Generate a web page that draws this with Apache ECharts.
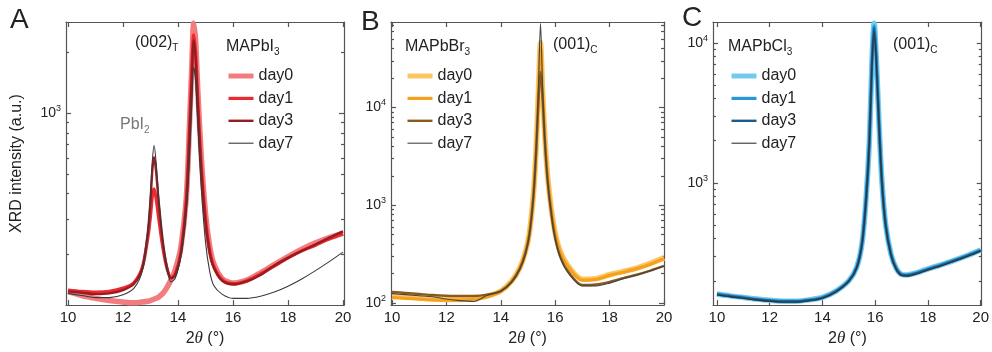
<!DOCTYPE html>
<html>
<head>
<meta charset="utf-8">
<script src="https://cdn.jsdelivr.net/npm/echarts@6/dist/echarts.min.js"></script>
<style>
html, body { margin: 0; padding: 0; background: #fff; }
#main { width: 992px; height: 352px; }
</style>
</head>
<body>
<div id="main"></div>
<script>
// values (2theta in degrees, intensity in a.u.)
let xA = [10, 10.5, 11, 11.5, 12, 12.4, 12.7, 12.9, 13.0, 13.07, 13.13, 13.2, 13.3, 13.45, 13.6, 13.75, 13.9, 14.1, 14.3, 14.42, 14.5, 14.57, 14.64, 14.72, 14.85, 15.0, 15.15, 15.3, 15.6, 16, 16.5, 17, 17.5, 18, 18.5, 19, 19.5, 20];
let aDay0 = [131, 125, 121, 118, 116, 115, 116, 117, 118, 119, 120, 121, 123, 128, 137, 150, 168, 215, 380, 900, 1700, 2800, 2300, 1300, 600, 320, 220, 180, 152, 144, 149, 162, 178, 195, 212, 228, 242, 255];
let aDay1 = [133, 131, 130, 131, 136, 145, 172, 240, 310, 390, 422, 380, 300, 215, 170, 153, 160, 205, 370, 850, 1600, 2450, 2000, 1150, 540, 300, 210, 175, 150, 143, 148, 160, 175, 192, 208, 222, 238, 252];
let aDay3 = [131, 129, 127, 128, 133, 143, 170, 255, 370, 530, 607, 520, 360, 230, 172, 152, 158, 200, 360, 800, 1500, 2300, 1900, 1100, 520, 290, 205, 172, 148, 142, 147, 158, 176, 192, 208, 224, 242, 260];
let aDay7 = [128, 125, 122, 122, 126, 136, 165, 260, 400, 590, 695, 580, 380, 230, 168, 146, 152, 195, 330, 620, 1100, 1700, 1450, 900, 420, 230, 165, 140, 127, 121, 121, 124, 130, 139, 151, 166, 184, 205];

let xB = [10, 10.5, 11, 11.5, 12, 12.5, 13, 13.5, 14, 14.4, 14.7, 14.9, 15.05, 15.2, 15.3, 15.38, 15.46, 15.54, 15.62, 15.72, 15.85, 16, 16.2, 16.5, 17, 17.5, 18, 18.5, 19, 19.5, 20];
let bDay0 = [118, 116, 113, 111, 109, 109, 111, 118, 133, 168, 230, 330, 520, 1300, 3800, 14000, 46000, 14000, 5000, 2000, 950, 520, 330, 235, 175, 178, 195, 210, 228, 255, 290];
let bDay1 = [114, 112, 110, 108, 107, 107, 109, 116, 132, 166, 228, 325, 510, 1280, 3700, 13000, 40000, 13000, 4800, 1950, 930, 510, 325, 230, 172, 175, 192, 207, 225, 250, 284];
let bDay3 = [130, 127, 124, 121, 119, 118, 118, 122, 133, 165, 225, 320, 500, 1250, 3600, 11000, 23000, 12000, 4500, 1800, 850, 460, 290, 205, 153, 155, 165, 180, 195, 215, 240];
let bDay7 = [125, 122, 119, 116, 110, 106, 104, 120, 132, 164, 222, 315, 500, 1250, 3800, 15000, 72000, 15000, 4600, 1800, 840, 450, 285, 200, 150, 150, 160, 178, 194, 214, 238];

let xC = [10, 10.5, 11, 11.5, 12, 12.5, 13, 13.5, 14, 14.5, 15, 15.3, 15.5, 15.65, 15.78, 15.88, 15.96, 16.04, 16.14, 16.26, 16.4, 16.6, 16.8, 17, 17.2, 17.5, 18, 18.5, 19, 19.5, 20];
let cDay0 = [161, 156, 152, 148, 145, 143, 143, 146, 152, 168, 200, 250, 370, 750, 2000, 7500, 13800, 8000, 2800, 1000, 500, 310, 245, 222, 220, 226, 243, 260, 280, 303, 332];
let cDay1 = [161, 156, 152, 148, 145, 143, 143, 146, 152, 168, 200, 250, 370, 750, 2000, 7400, 13200, 7900, 2800, 1000, 500, 310, 245, 222, 220, 226, 243, 260, 280, 303, 330];
let cDay3 = [160, 155, 151, 147, 144, 142, 142, 145, 151, 167, 199, 249, 368, 745, 1980, 7300, 12800, 7800, 2750, 990, 495, 307, 243, 220, 218, 224, 241, 258, 278, 301, 328];
let cDay7 = [159, 154, 150, 146, 143, 141, 141, 144, 150, 166, 198, 247, 365, 740, 1950, 7100, 12000, 7500, 2700, 980, 490, 305, 241, 218, 216, 222, 239, 256, 276, 299, 326];

let days = ['day0', 'day1', 'day3', 'day7'];
let xTicks = [10, 12, 14, 16, 18, 20];
let yMajorA = [1000];
let yMinorA = [200, 300, 400, 500, 600, 700, 800, 900, 2000];
let yMajorB = [100, 1000, 10000];
let yMinorB = [200, 300, 400, 500, 600, 700, 800, 900, 2000, 3000, 4000, 5000, 6000, 7000, 8000, 9000, 20000, 30000, 40000, 50000, 60000, 70000];
let yMajorC = [1000, 10000];
let yMinorC = [200, 300, 400, 500, 600, 700, 800, 900, 2000, 3000, 4000, 5000, 6000, 7000, 8000, 9000];

let FONT = 'Liberation Sans';
let AX = '#555';
let TXT = '#222';
let widths = [5.5, 3.2, 2.4, 1.1];

let panels = [
    { key: 'A', grid: { left: 66, top: 22, width: 278, height: 285 }, xMin: 9.927, xMax: 20.036, yMin: 112, yMax: 2840,
      major: yMajorA, minor: yMinorA, xs: xA, ys: [aDay0, aDay1, aDay3, aDay7],
      colors: ['#f27d80', '#ea2a30', '#9a1b1f', '#3a3a3a'], legendLeft: 226, title: 'MAPbI{s|3}', titleX: 226 },
    { key: 'B', grid: { left: 391, top: 22, width: 273, height: 285 }, xMin: 9.963, xMax: 20.0, yMin: 95.4, yMax: 74700,
      major: yMajorB, minor: yMinorB, xs: xB, ys: [bDay0, bDay1, bDay3, bDay7],
      colors: ['#fdc665', '#f6a11e', '#8a5a1c', '#444444'], legendLeft: 405, title: 'MAPbBr{s|3}', titleX: 405 },
    { key: 'C', grid: { left: 713, top: 22, width: 276, height: 285 }, xMin: 9.85, xMax: 20.04, yMin: 134, yMax: 14100,
      major: yMajorC, minor: yMinorC, xs: xC, ys: [cDay0, cDay1, cDay3, cDay7],
      colors: ['#72cbef', '#2a98d8', '#1b5b8c', '#333333'], legendLeft: 729, title: 'MAPbCl{s|3}', titleX: 728 }
];

function supLabel(v) {
    return '{b|10}{s|' + Math.round(Math.log10(v)) + '}';
}

let grids = [], xAxes = [], yAxes = [], series = [], legends = [];

panels.forEach(function (p, i) {
    grids.push(p.grid);
    let lineStyle = { color: AX, width: 1.2 };
    let xBase = { type: 'value', gridIndex: i, min: p.xMin, max: p.xMax, splitLine: { show: false },
        axisLine: { lineStyle: lineStyle },
        axisTick: { inside: true, length: 5, lineStyle: lineStyle, customValues: xTicks } };
    xAxes.push(Object.assign({}, xBase, {
        position: 'bottom',
        axisLabel: { customValues: xTicks, fontSize: 15, color: TXT, fontFamily: FONT, margin: 5 },
        name: '2{i|θ} (°)', nameLocation: 'middle', nameGap: 22,
        nameTextStyle: { fontSize: 16, color: TXT, fontFamily: FONT,
            rich: { i: { fontSize: 17, fontStyle: 'italic', fontFamily: 'Liberation Serif', color: TXT } } }
    }));
    xAxes.push(Object.assign({}, xBase, { position: 'top', axisLabel: { show: false } }));

    let yBase = { type: 'log', logBase: 10, gridIndex: i, min: p.yMin, max: p.yMax, splitLine: { show: false } };
    let yMain = Object.assign({}, yBase, {
        position: 'left',
        axisLine: { show: true, lineStyle: lineStyle },
        axisTick: { inside: true, length: 5, lineStyle: lineStyle, customValues: p.major },
        axisLabel: { customValues: p.major, formatter: supLabel, margin: 5,
            rich: { b: { fontSize: 14, color: TXT, fontFamily: FONT, lineHeight: 18 },
                    s: { fontSize: 9, color: TXT, fontFamily: FONT, lineHeight: 10, verticalAlign: 'top' } } }
    });
    if (i === 0) {
        yMain.name = 'XRD intensity (a.u.)';
        yMain.nameLocation = 'middle';
        yMain.nameGap = 41;
        yMain.nameTextStyle = { fontSize: 16, color: TXT, fontFamily: FONT };
    }
    yAxes.push(yMain);
    yAxes.push(Object.assign({}, yBase, { position: 'left', axisLine: { show: false }, axisLabel: { show: false },
        axisTick: { inside: true, length: 3, lineStyle: lineStyle, customValues: p.minor } }));
    yAxes.push(Object.assign({}, yBase, { position: 'right', axisLine: { show: true, lineStyle: lineStyle }, axisLabel: { show: false },
        axisTick: { inside: true, length: 5, lineStyle: lineStyle, customValues: p.major } }));
    yAxes.push(Object.assign({}, yBase, { position: 'right', axisLine: { show: false }, axisLabel: { show: false },
        axisTick: { inside: true, length: 3, lineStyle: lineStyle, customValues: p.minor } }));

    let legendData = [];
    days.forEach(function (d, k) {
        let name = p.key + ' ' + d;
        series.push({
            type: 'line', name: name, xAxisIndex: 2 * i, yAxisIndex: 4 * i,
            data: p.xs.map(function (x, j) { return [x, p.ys[k][j]]; }),
            showSymbol: false, symbol: 'none', smooth: 0.3,
            lineStyle: { color: p.colors[k], width: widths[k] },
            itemStyle: { color: p.colors[k] },
            z: 2 + k, silent: true, animation: false
        });
        legendData.push({ name: name, itemStyle: { opacity: 0 },
            lineStyle: { width: widths[k] - (k === 0 ? 0.5 : 0), opacity: 1 } });
    });
    legends.push({
        left: p.legendLeft, top: 68, orient: 'vertical', padding: 0,
        itemWidth: 25, itemHeight: 14, itemGap: 6.4, selectedMode: false,
        textStyle: { fontSize: 16, color: TXT, fontFamily: FONT },
        formatter: function (n) { return n.split(' ')[1]; },
        data: legendData
    });
});

function label(x, y, text, color, size) {
    return {
        type: 'text', x: x, y: y,
        style: { text: text, fontSize: size || 16, fontFamily: FONT, fill: color || TXT,
            verticalAlign: 'middle', lineHeight: 20,
            rich: { s: { fontSize: 10, fontFamily: FONT, fill: color || TXT, lineHeight: 10, verticalAlign: 'bottom' } } }
    };
}

let graphics = [
    label(10, 20, 'A', TXT, 28),
    label(361, 22, 'B', TXT, 28),
    label(682, 18, 'C', TXT, 28),
    label(135, 43, '(002){s|T}'),
    label(120, 125, 'PbI{s|2}', '#777'),
    label(553, 45, '(001){s|C}'),
    label(893, 45, '(001){s|C}')
];
panels.forEach(function (p) { graphics.push(label(p.titleX, 47, p.title)); });

let chart = echarts.init(document.getElementById('main'), null, { renderer: 'canvas' });
chart.setOption({
    animation: false,
    backgroundColor: '#fff',
    textStyle: { fontFamily: FONT },
    grid: grids,
    xAxis: xAxes,
    yAxis: yAxes,
    legend: legends,
    graphic: graphics,
    series: series
});
</script>
</body>
</html>
